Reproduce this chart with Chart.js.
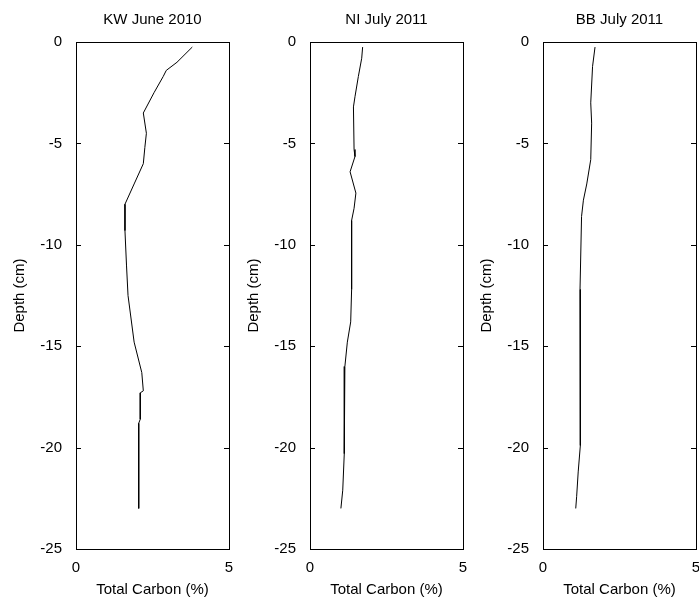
<!DOCTYPE html>
<html>
<head>
<meta charset="utf-8">
<script src="https://cdn.jsdelivr.net/npm/chart.js@4.4.0/dist/chart.umd.min.js"></script>
<style>
  html, body { margin: 0; padding: 0; background: #fff; overflow: hidden; }
  #wrap { position: relative; width: 699px; height: 606px; overflow: hidden; }
  #wrap canvas { position: absolute; top: 0; }
</style>
</head>
<body>
<div id="wrap">
  <canvas id="kw" width="305" height="606" style="left:0px"></canvas>
  <canvas id="ni" width="305" height="606" style="left:234px"></canvas>
  <canvas id="bb" width="305" height="606" style="left:467px"></canvas>
</div>
<script>
// Panel titles and axis labels
const titles = ['KW June 2010', 'NI July 2011', 'BB July 2011'];
const xLabel = 'Total Carbon (%)';
const yLabel = 'Depth (cm)';
const xTicks = [0, 5];
const yTicks = [0, -5, -10, -15, -20, -25];

// KW June 2010
const kwCarbon = [3.8, 3.3, 2.95, 2.85, 2.55, 2.2, 2.3, 2.25, 2.2, 1.9, 1.6, 1.6, 1.65, 1.7, 1.9, 2.15, 2.2, 2.1, 2.1, 2.05, 2.05];
const kwDepth  = [-0.25, -1.0, -1.4, -1.7, -2.5, -3.5, -4.5, -5.2, -6.0, -7.0, -8.0, -9.3, -11.0, -12.5, -14.8, -16.3, -17.2, -17.3, -18.6, -18.8, -23.0];

// NI July 2011
const niCarbon = [1.72, 1.69, 1.58, 1.47, 1.42, 1.44, 1.47, 1.31, 1.5, 1.44, 1.36, 1.36, 1.33, 1.22, 1.14, 1.12, 1.07, 1.01];
const niDepth  = [-0.25, -0.8, -1.7, -2.7, -3.2, -5.3, -5.65, -6.4, -7.45, -8.2, -8.8, -12.2, -13.8, -14.8, -16.0, -20.3, -22.1, -23.0];

// BB July 2011
const bbCarbon = [1.7, 1.62, 1.56, 1.59, 1.56, 1.43, 1.32, 1.26, 1.21, 1.23, 1.21, 1.15, 1.1, 1.07];
const bbDepth  = [-0.25, -1.2, -3.0, -4.0, -5.8, -7.0, -7.8, -8.6, -12.2, -12.7, -19.9, -21.2, -22.4, -23.0];

const FONT = '"Liberation Sans", Arial, Helvetica, sans-serif';
const SIZE = 15;

// Box, inward ticks and title, matlab style
const axesBox = {
    id: 'axesBox',
    afterDraw(chart, args, opts) {
        const { ctx, chartArea: a, scales } = chart;
        ctx.save();
        ctx.strokeStyle = '#000';
        ctx.lineWidth = 1;
        ctx.strokeRect(a.left + 0.5, a.top + 0.5, a.right - a.left, a.bottom - a.top);
        ctx.beginPath();
        yTicks.forEach(v => {
            const y = Math.round(scales.y.getPixelForValue(v)) + 0.5;
            ctx.moveTo(a.left, y);
            ctx.lineTo(a.left + 5, y);
            ctx.moveTo(a.right, y);
            ctx.lineTo(a.right - 5, y);
        });
        ctx.stroke();
        ctx.fillStyle = '#000';
        ctx.font = SIZE + 'px ' + FONT;
        ctx.textAlign = 'center';
        ctx.textBaseline = 'middle';
        ctx.fillText(opts.text, (a.left + a.right) / 2, 20);
        ctx.restore();
    }
};

function makePanel(id, title, carbon, depth) {
    const points = carbon.map((c, i) => ({ x: c, y: depth[i] }));
    return new Chart(document.getElementById(id), {
        type: 'scatter',
        data: {
            datasets: [{
                data: points,
                showLine: true,
                borderColor: '#000',
                borderWidth: 1,
                pointRadius: 0,
                tension: 0
            }]
        },
        options: {
            responsive: false,
            animation: false,
            layout: { padding: { top: 42, left: 0, right: 76, bottom: 0 } },
            plugins: {
                legend: { display: false },
                tooltip: { enabled: false },
                axesBox: { text: title }
            },
            scales: {
                x: {
                    type: 'linear',
                    min: 0,
                    max: 5,
                    grid: { display: false },
                    border: { display: false },
                    afterBuildTicks: s => { s.ticks = xTicks.map(v => ({ value: v })); },
                    afterFit: s => { s.height = 57; },
                    ticks: { color: '#000', padding: 2, maxRotation: 0, font: { family: FONT, size: SIZE } },
                    title: { display: true, text: xLabel, color: '#000', padding: { top: 0, bottom: 7 }, font: { family: FONT, size: SIZE } }
                },
                y: {
                    type: 'linear',
                    min: -25,
                    max: 0,
                    grid: { display: false },
                    border: { display: false },
                    afterBuildTicks: s => { s.ticks = yTicks.map(v => ({ value: v })); },
                    afterFit: s => { s.width = 76; },
                    ticks: { color: '#000', padding: 6, font: { family: FONT, size: SIZE } },
                    title: { display: true, text: yLabel, color: '#000', padding: { top: 11, bottom: 0 }, font: { family: FONT, size: SIZE } }
                }
            }
        },
        plugins: [axesBox]
    });
}

makePanel('kw', titles[0], kwCarbon, kwDepth);
makePanel('ni', titles[1], niCarbon, niDepth);
makePanel('bb', titles[2], bbCarbon, bbDepth);
</script>
</body>
</html>
